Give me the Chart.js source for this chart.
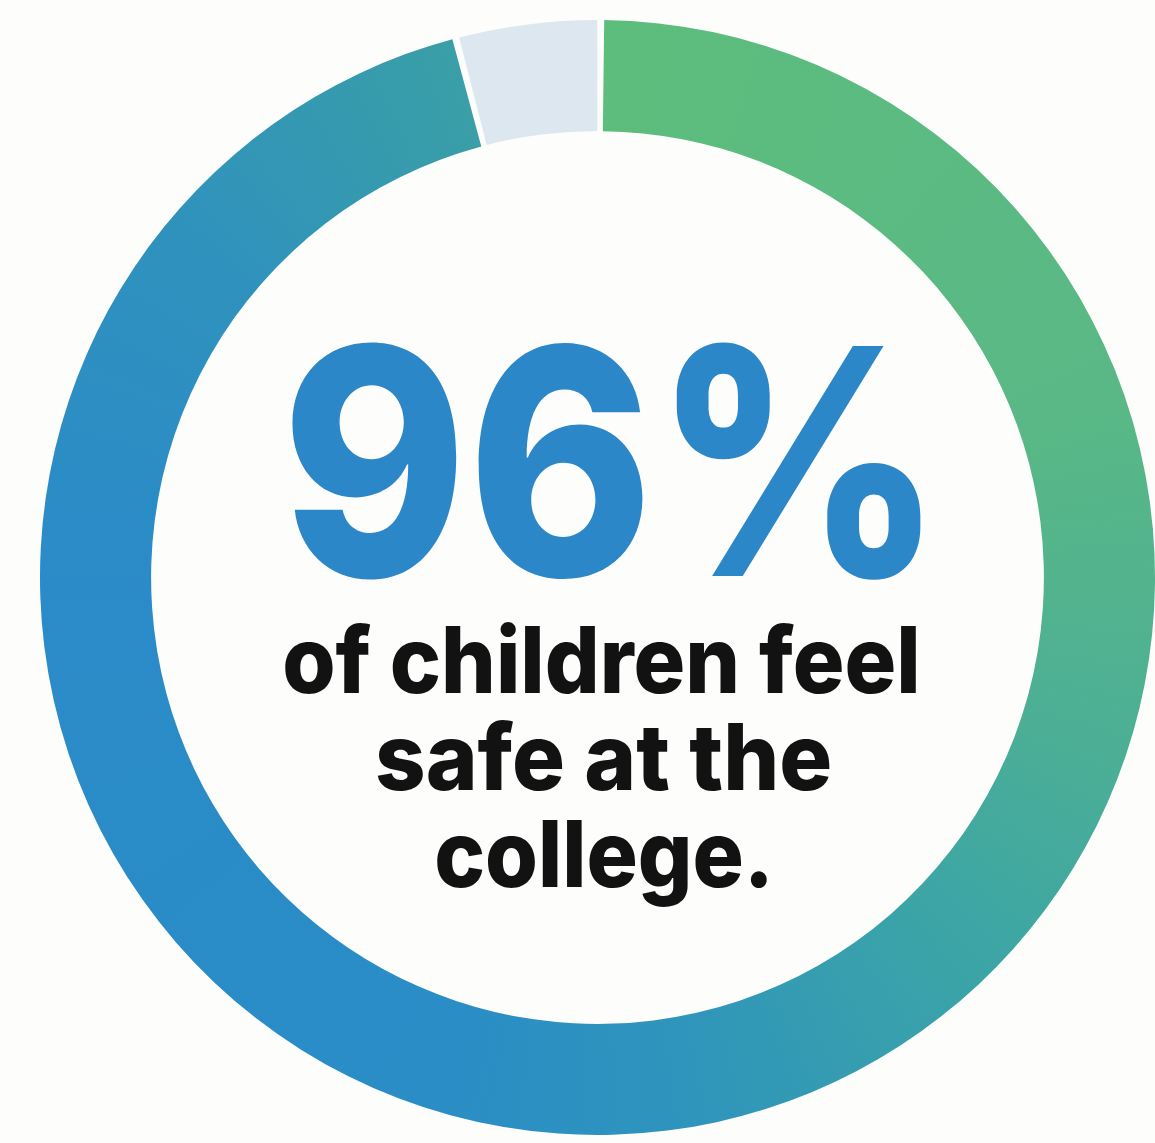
<!DOCTYPE html>
<html>
<head>
<meta charset="utf-8">
<script src="https://cdn.jsdelivr.net/npm/chart.js@4.4.0/dist/chart.umd.min.js"></script>
<style>
  html, body { margin: 0; padding: 0; background: #fdfdfc; }
  #wrap { width: 1155px; height: 1143px; position: relative; }
  canvas { display: block; }
</style>
</head>
<body>
<div id="wrap"><canvas id="c" width="1155" height="1143"></canvas></div>
<script>
// ---- data ----
const categories = ['Feel safe', 'Do not feel safe'];
const values = [96, 4];
const headline = values[0] + '%';
const captionLines = ['of children feel', 'safe at the', 'college.'];

// ---- styling ----
const restColor = '#dce7f0';
const ringStops = [
  [0.00, '#5dbd7c'],
  [0.20, '#59b886'],
  [0.30, '#4caf95'],
  [0.38, '#3ba4a7'],
  [0.47, '#2f95bb'],
  [0.55, '#2a8dc6'],
  [0.75, '#2a8bc8'],
  [0.86, '#2f92bd'],
  [0.96, '#3a9fa6'],
  [1.00, '#3ca3a1']
];

function ringFill(context) {
  const chart = context.chart;
  const area = chart.chartArea;
  if (!area) return '#3aa0a8';
  const cx = (area.left + area.right) / 2;
  const cy = (area.top + area.bottom) / 2;
  const g = chart.ctx.createConicGradient(-Math.PI / 2, cx, cy);
  ringStops.forEach(s => g.addColorStop(s[0], s[1]));
  return g;
}

const textPlugin = {
  id: 'centerText',
  afterDraw(chart) {
    const ctx = chart.ctx;
    const drawFit = (txt, font, color, left, right, baseline) => {
      ctx.save();
      ctx.font = font;
      ctx.fillStyle = color;
      ctx.textBaseline = 'alphabetic';
      ctx.textAlign = 'left';
      const m = ctx.measureText(txt);
      const w = m.actualBoundingBoxRight + m.actualBoundingBoxLeft;
      const target = right - left;
      const sx = target / w;
      ctx.translate(left, baseline);
      ctx.scale(sx, 1);
      ctx.fillText(txt, m.actualBoundingBoxLeft, 0);
      ctx.restore();
    };
    drawFit(headline, '800 316px Inter, "Open Sans", sans-serif', '#2b87c7', 290, 922, 576);
    const fontSmall = '800 92px Inter, "Open Sans", sans-serif';
    drawFit(captionLines[0], fontSmall, '#121212', 285, 916, 693);
    drawFit(captionLines[1], fontSmall, '#121212', 377, 830, 790);
    drawFit(captionLines[2], fontSmall, '#121212', 437, 767, 887);
  }
};

new Chart(document.getElementById('c'), {
  type: 'doughnut',
  data: {
    labels: categories,
    datasets: [{
      data: values,
      backgroundColor: (context) => context.dataIndex === 0 ? ringFill(context) : restColor,
      borderWidth: 0,
      hoverOffset: 0,
      spacing: 4
    }]
  },
  options: {
    responsive: false,
    animation: false,
    cutout: '80%',
    rotation: 0,
    layout: { padding: { left: 40, right: 0, top: 20, bottom: 8 } },
    plugins: {
      legend: { display: false },
      tooltip: { enabled: false }
    }
  },
  plugins: [textPlugin]
});
</script>
</body>
</html>
